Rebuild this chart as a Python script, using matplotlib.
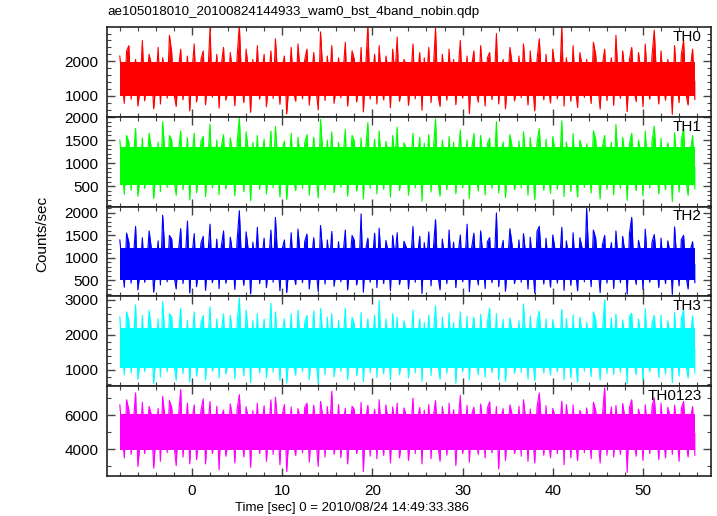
import matplotlib
matplotlib.use('Agg')
import matplotlib.pyplot as plt
from matplotlib.ticker import MultipleLocator
import numpy as np

plt.rcParams['font.family'] = ['Liberation Sans', 'DejaVu Sans']

title = 'ae105018010_20100824144933_wam0_bst_4band_nobin.qdp'
x_label = 'Time [sec] 0 = 2010/08/24 14:49:33.386'
y_label = 'Counts/sec'
t_start = -8.0   # first bin
t_bin = 0.25     # bin width (sec)

names = ['TH0', 'TH1', 'TH2', 'TH3', 'TH0123']
colors = ['#ff0000', '#00ff00', '#0000ff', '#00ffff', '#ff00ff']

# light curves (counts/sec) at 0.25 s
th0 = [2150, 1400, 780, 2300, 2450, 900, 1650, 2050, 700, 1200, 2600, 850, 1500, 2200, 1900, 620,
       1350, 2400, 760, 2100, 1600, 930, 2750, 2250, 1050, 690, 1800, 2350, 880, 1450, 2150, 560,
       1700, 2500, 820, 1300, 2050, 2300, 740, 1550, 2950, 960, 1250, 2200, 640, 1900, 2400, 870,
       1150, 2250, 1600, 710, 2100, 3050, 1400, 800, 2350, 1750, 520, 2050, 1300, 2450, 900, 1650,
       2200, 680, 1450, 2300, 920, 2650, 1550, 750, 1850, 2150, 470, 1350, 2400, 1100, 840, 2500,
       1600, 910, 2050, 2350, 730, 1500, 2250, 1200, 590, 2850, 1700, 860, 2150, 1400, 2450, 780,
       1300, 2100, 940, 1650, 2550, 700, 1450, 2300, 2050, 820, 1250, 2400, 530, 1800, 3050, 900,
       1500, 2200, 760, 2450, 1350, 880, 2150, 1700, 650, 2350, 1550, 2700, 840, 1200, 2050, 1900,
       720, 1450, 2500, 910, 1600, 2250, 580, 2100, 1350, 2400, 800, 1750, 2950, 1050, 690, 2200,
       1500, 870, 2350, 1250, 2050, 740, 1650, 2600, 930, 1400, 2150, 480, 1850, 2300, 1100, 810,
       2450, 1550, 700, 2100, 2250, 890, 1300, 2800, 760, 1700, 2050, 620, 1450, 2400, 1900, 850,
       1200, 2150, 940, 2500, 1600, 730, 2300, 1350, 560, 2050, 2650, 1500, 880, 2200, 1250, 790,
       2350, 1750, 910, 1400, 3000, 700, 2100, 1550, 840, 2450, 1200, 660, 2250, 1850, 950, 2050,
       1450, 770, 2550, 2200, 1300, 610, 1900, 2350, 860, 1600, 2100, 720, 2750, 1400, 920, 2300,
       1650, 540, 2050, 2400, 1150, 830, 2250, 1750, 680, 2500, 1350, 900, 2150, 2900, 1500, 760,
       2300, 1250, 870, 2050, 1700, 460, 2450, 1400, 800, 2200, 2600, 1050, 730, 1800, 2350, 890]

th1 = [1500, 900, 320, 1600, 1450, 410, 1100, 1750, 280, 700, 1550, 450, 950, 1650, 1300, 230,
       850, 1450, 380, 1900, 1200, 470, 1600, 1500, 640, 300, 1250, 1700, 420, 1000, 1550, 200,
       1150, 1650, 350, 800, 1480, 1580, 270, 1050, 1850, 460, 750, 1500, 310, 1350, 1620, 440,
       700, 1550, 1200, 290, 1420, 1990, 900, 380, 1680, 1250, 180, 1450, 850, 1600, 430, 1100,
       1520, 330, 950, 1700, 460, 1800, 1050, 260, 1300, 1480, 210, 880, 1650, 650, 400, 1560,
       1100, 450, 1440, 1620, 300, 1000, 1560, 800, 240, 1950, 1200, 420, 1500, 900, 1680, 360,
       820, 1450, 470, 1150, 1730, 280, 960, 1600, 1480, 390, 700, 1550, 220, 1280, 1880, 450,
       1000, 1520, 330, 1700, 880, 430, 1470, 1200, 260, 1600, 1050, 1780, 400, 750, 1440, 1320,
       300, 970, 1650, 460, 1100, 1560, 170, 1430, 850, 1620, 370, 1250, 1960, 640, 280, 1500,
       1050, 420, 1580, 780, 1450, 330, 1150, 1720, 460, 920, 1500, 230, 1300, 1640, 700, 390,
       1600, 1080, 310, 1420, 1540, 450, 860, 1900, 350, 1200, 1460, 250, 980, 1620, 1330, 420,
       760, 1480, 460, 1680, 1120, 300, 1560, 900, 200, 1440, 1750, 1000, 410, 1520, 820, 340,
       1580, 1250, 440, 940, 1920, 270, 1460, 1050, 380, 1640, 780, 260, 1500, 1300, 470, 1420,
       1000, 350, 1700, 1520, 860, 220, 1350, 1600, 430, 1080, 1450, 310, 1840, 950, 450, 1560,
       1150, 190, 1420, 1650, 720, 400, 1500, 1200, 290, 1700, 900, 460, 1470, 1800, 1000, 330,
       1540, 800, 420, 1440, 1180, 160, 1660, 960, 370, 1500, 1760, 650, 300, 1250, 1600, 440]

th2 = [1400, 850, 350, 1550, 1350, 440, 1000, 1700, 290, 700, 1450, 460, 900, 1600, 1200, 240,
       800, 1380, 400, 1950, 1100, 470, 1500, 1420, 620, 310, 1150, 1650, 430, 950, 1820, 220,
       1050, 1540, 360, 780, 1330, 1480, 280, 1000, 1750, 450, 720, 1420, 320, 1250, 1600, 440,
       680, 1460, 1100, 300, 1380, 2050, 850, 390, 1580, 1150, 200, 1350, 800, 1680, 430, 1000,
       1440, 340, 900, 1620, 460, 1900, 980, 270, 1200, 1400, 230, 830, 1560, 640, 410, 1640,
       1050, 450, 1370, 1530, 310, 960, 1450, 760, 250, 1720, 1100, 420, 1400, 870, 1590, 370,
       780, 1360, 470, 1080, 1620, 290, 920, 1500, 1390, 400, 680, 1980, 240, 1180, 1440, 460,
       950, 1550, 340, 1660, 840, 430, 1390, 1120, 270, 1500, 1000, 1560, 410, 720, 1370, 1240,
       310, 930, 1700, 460, 1050, 1480, 210, 1340, 820, 1580, 380, 1180, 1850, 620, 290, 1420,
       1000, 430, 1620, 760, 1350, 340, 1090, 1510, 470, 880, 1750, 250, 1220, 1550, 680, 400,
       1600, 1030, 320, 1360, 1450, 450, 820, 2000, 360, 1140, 1390, 260, 930, 1650, 1260, 430,
       730, 1400, 460, 1540, 1060, 310, 1460, 860, 220, 1590, 1700, 950, 420, 1440, 790, 350,
       1510, 1180, 440, 900, 1680, 280, 1380, 1010, 390, 1560, 750, 270, 1450, 1220, 470, 2100,
       960, 360, 1620, 1440, 820, 230, 1290, 1500, 440, 1040, 1340, 320, 1600, 910, 450, 1480,
       1090, 200, 1550, 1900, 690, 410, 1390, 1140, 300, 1640, 860, 460, 1350, 1520, 950, 340,
       1440, 770, 430, 1380, 1110, 190, 1690, 920, 380, 1410, 1500, 620, 310, 1180, 1360, 450]

th3 = [2500, 1500, 850, 2650, 2400, 900, 1800, 2850, 720, 1200, 2550, 940, 1600, 2700, 2100, 600,
       1400, 2450, 780, 2950, 1900, 930, 2600, 2500, 1150, 690, 2000, 2750, 880, 1650, 2400, 640,
       1850, 2650, 810, 1300, 2350, 2550, 700, 1700, 2800, 950, 1250, 2450, 760, 2100, 2600, 870,
       1200, 2550, 1950, 730, 2300, 3050, 1500, 820, 2700, 2000, 620, 2400, 1350, 2600, 900, 1750,
       2450, 760, 1550, 2900, 920, 2650, 1700, 680, 2050, 2450, 610, 1450, 2600, 1150, 840, 2700,
       1800, 930, 2350, 2550, 700, 1600, 2680, 1300, 580, 2750, 1950, 850, 2500, 1450, 2600, 790,
       1350, 2400, 940, 1750, 2750, 720, 1550, 2500, 2300, 830, 1250, 2640, 650, 1900, 2450, 910,
       1600, 2560, 770, 2980, 1400, 880, 2450, 1850, 700, 2600, 1700, 2500, 850, 1300, 2400, 2050,
       760, 1550, 2700, 900, 1800, 2450, 660, 2350, 1400, 2560, 830, 1950, 2820, 1200, 720, 2500,
       1650, 890, 2620, 1300, 2350, 610, 1750, 2650, 930, 1450, 2530, 700, 2000, 2500, 1250, 850,
       2580, 1700, 780, 2350, 2760, 910, 1400, 2600, 700, 1850, 2440, 660, 1550, 2480, 2050, 890,
       1300, 2400, 920, 2880, 1750, 730, 2540, 1450, 680, 2350, 2680, 1600, 900, 2450, 1350, 840,
       2430, 1950, 930, 1500, 2720, 710, 2460, 1650, 760, 2570, 1300, 640, 2500, 2000, 950, 2350,
       1550, 800, 2650, 2440, 1400, 700, 2050, 3000, 880, 1750, 2480, 860, 2590, 1500, 920, 2420,
       1800, 600, 2520, 2610, 1250, 850, 2450, 1900, 690, 2740, 1450, 940, 2340, 2550, 1600, 770,
       2560, 1350, 870, 2400, 1950, 620, 2630, 1500, 810, 2490, 2700, 1150, 760, 1850, 2540, 900]

th0123 = [6600, 5000, 3500, 6900, 6300, 3700, 5600, 7300, 3000, 4400, 6750, 3750, 5200, 6500, 6000, 2900,
          4800, 6400, 3300, 7100, 5800, 3800, 6850, 6450, 4300, 3050, 5900, 7500, 3550, 5100, 6700, 3150,
          5700, 6600, 3400, 4600, 6280, 6950, 3150, 5300, 6800, 3750, 4500, 6520, 2800, 5900, 6300, 3600,
          4400, 6650, 5800, 3200, 6320, 7200, 5000, 3550, 6500, 5700, 2950, 6260, 4700, 6700, 3750, 5400,
          6550, 3300, 5100, 6900, 3700, 7050, 5500, 3100, 6000, 6620, 2700, 4800, 6480, 4300, 3650, 6380,
          5800, 3800, 6450, 6700, 3250, 5200, 6580, 4500, 3000, 6800, 5900, 3550, 6500, 4900, 7400, 3700,
          4600, 6620, 3500, 5500, 6400, 3150, 5100, 6520, 6320, 3750, 4400, 6750, 2700, 5800, 6580, 3600,
          5300, 6350, 3450, 6900, 4800, 3650, 6600, 5600, 3200, 6480, 5200, 6700, 3500, 4500, 6420, 6000,
          3350, 5000, 7000, 3750, 5700, 6450, 3150, 6300, 4700, 6620, 3450, 5900, 6850, 4300, 3300, 6500,
          5400, 3650, 6700, 4600, 6320, 3050, 5600, 7150, 3750, 4900, 6580, 3250, 6000, 6460, 4400, 3700,
          6650, 5500, 3500, 6420, 6780, 3800, 4800, 6500, 2850, 5800, 6380, 3350, 5200, 6600, 6000, 3750,
          4400, 6520, 3600, 6900, 5700, 3300, 6360, 5000, 3200, 6460, 7300, 5400, 3650, 6550, 4500, 3500,
          6400, 5900, 3750, 5100, 6820, 3100, 6620, 5400, 3500, 6600, 4600, 3350, 6280, 5900, 3800, 6420,
          5200, 3450, 6750, 6300, 4700, 3200, 5950, 7600, 3650, 5500, 6480, 3550, 6560, 5000, 3700, 6680,
          5800, 2650, 6450, 6900, 4400, 3600, 6350, 5700, 3350, 6600, 5000, 3750, 6520, 7000, 5300, 3400,
          6700, 4800, 3500, 6460, 5900, 3700, 6580, 5100, 3300, 6400, 6800, 4500, 3550, 5800, 6500, 3650]

# range where the trace is solid, and the mean level (counts/sec)
cores = [[980, 1980], [520, 1350], [520, 1210], [1040, 2200], [3950, 6050]]
means = [1450, 930, 880, 1600, 5000]

curves = [th0, th1, th2, th3, th0123]
ylims = [(390, 2990), (55, 2005), (146, 2140), (523, 3094), (2443, 7690)]
ymajor = [1000, 500, 500, 1000, 2000]
yminor = [200, 100, 100, 200, 1000]

fig = plt.figure(figsize=(7.17, 5.16), dpi=100)
left, right = 107 / 717, 711 / 717
top, bottom = 1 - 27 / 516, 1 - 476 / 516
h = (top - bottom) / 5

for i, rate in enumerate(curves):
    ax = fig.add_axes([left, top - (i + 1) * h, right - left, h])
    t = t_start + np.arange(len(rate)) * t_bin
    ax.fill_between([t[0], t[-1]], cores[i][0], cores[i][1], color=colors[i], lw=0)
    ax.fill_between(t, rate, means[i], color=colors[i], lw=0)
    ax.plot(t, rate, color=colors[i], lw=0.8)
    ax.set_xlim(-9.42, 57.54)
    ax.set_ylim(*ylims[i])
    ax.xaxis.set_major_locator(MultipleLocator(10))
    ax.xaxis.set_minor_locator(MultipleLocator(2))
    ax.yaxis.set_major_locator(MultipleLocator(ymajor[i]))
    ax.yaxis.set_minor_locator(MultipleLocator(yminor[i]))
    ax.tick_params(which='both', direction='in', top=True, right=True,
                   color='#444444', labelsize=11, pad=6)
    ax.tick_params(which='major', length=6, width=1.0)
    ax.tick_params(which='minor', length=3, width=0.8)
    for s in ax.spines.values():
        s.set_color('#222222')
        s.set_linewidth(1.2)
    if i < 4:
        ax.tick_params(labelbottom=False)
    ax.text(0.985, 0.89, names[i], transform=ax.transAxes, ha='right', va='center', fontsize=11)

fig.text(107 / 717, 1 - 12 / 516, title, ha='left', va='center', fontsize=9.6)
fig.text(352 / 717, 1 - 508 / 516, x_label, ha='center', va='center', fontsize=9.5)
fig.text(42 / 717, 1 - 234 / 516, y_label, ha='center', va='center', rotation=90, fontsize=11)

fig.savefig('out.png', dpi=100)
